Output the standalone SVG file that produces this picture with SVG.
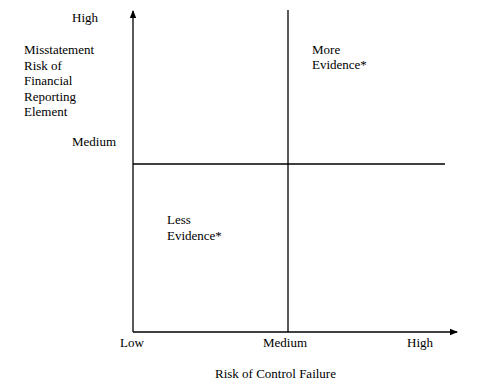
<svg xmlns="http://www.w3.org/2000/svg" width="480" height="386" viewBox="0 0 480 386">
<style>
text{font-family:"Liberation Serif","Times New Roman",serif;font-size:13px;fill:#000}
.ln{stroke:#000;stroke-width:1.3;fill:none}
</style>
<defs>
<marker id="ah" markerWidth="8" markerHeight="8" refX="7" refY="4" orient="auto" markerUnits="userSpaceOnUse"><path d="M0,0.8 L8,4 L0,7.2 Z" fill="#000"/></marker>
</defs>
<rect width="480" height="386" fill="#fff"/>
<g id="connectors">
<line class="ln" x1="133" y1="332" x2="133" y2="11" marker-end="url(#ah)"/>
<line class="ln" x1="133" y1="332" x2="457" y2="332" marker-end="url(#ah)"/>
<line class="ln" x1="288" y1="10" x2="288" y2="332"/>
<line class="ln" x1="133" y1="164" x2="445" y2="164"/>
</g>
<g id="y-axis-labels">
<text x="72" y="22">High</text>
<text x="24" y="54">Misstatement</text>
<text x="24" y="70">Risk of</text>
<text x="24" y="85">Financial</text>
<text x="24" y="101">Reporting</text>
<text x="24" y="116">Element</text>
<text x="72" y="146">Medium</text>
</g>
<g id="quadrant-more">
<text x="312" y="54">More</text>
<text x="312" y="69">Evidence*</text>
</g>
<g id="quadrant-less">
<text x="167" y="224">Less</text>
<text x="167" y="240">Evidence*</text>
</g>
<g id="x-axis-labels">
<text x="120" y="347">Low</text>
<text x="263" y="347">Medium</text>
<text x="407" y="347">High</text>
<text x="215" y="378">Risk of Control Failure</text>
</g>
</svg>
